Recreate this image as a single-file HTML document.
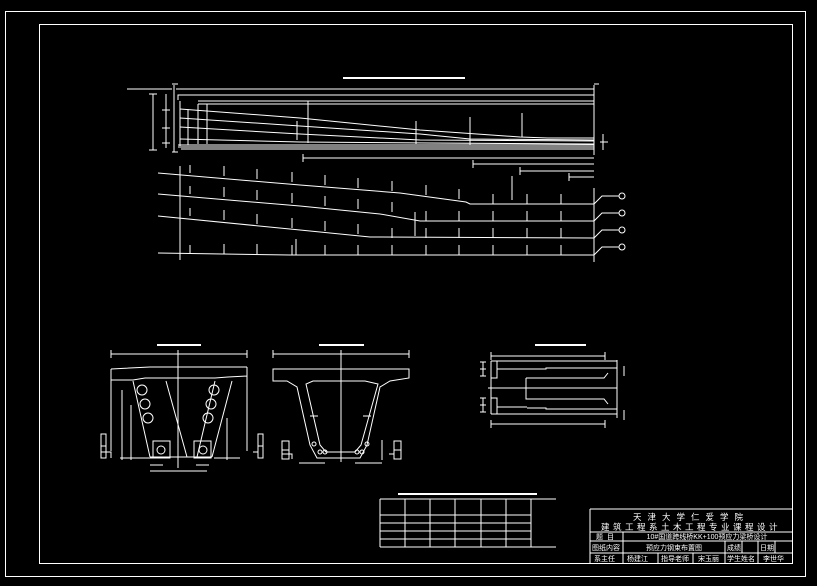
<!DOCTYPE html>
<html><head><meta charset="utf-8"><style>
html,body{margin:0;padding:0;background:#000;}
svg{display:block}
text{font-family:"Liberation Sans","Noto Sans CJK SC",sans-serif;fill:#fff;}
</style></head><body>
<svg width="817" height="586" viewBox="0 0 817 586" xmlns="http://www.w3.org/2000/svg" stroke="#fff" fill="none" stroke-width="1">
<!-- frames -->
<rect x="5.5" y="11.5" width="800" height="565"/>
<rect x="39.5" y="24.5" width="753" height="539"/>

<!-- TOP ELEVATION -->
<line x1="343" y1="78" x2="465" y2="78" stroke-width="2"/>
<line x1="127" y1="89" x2="172" y2="89"/>
<path d="M174 85V152M172 84h6M172 152h6"/>
<line x1="176" y1="89" x2="594" y2="89"/>
<path d="M178 100V95h10M188 95H594"/>
<path d="M198 101H594M198 104H594"/>
<path d="M178 145H594M178 147H594M181 149H594"/>
<path d="M594 85V155M594 84h5"/>
<path d="M153 94V150M149 94h8M149 150h8M166 94V148M162 110h8M162 128h8M162 143h8"/>
<path d="M180 101V146M188 109V145M198 104V144M207 104V144M308 101V143"/>
<!-- tendons top -->
<polyline points="180,109 300,118 420,130 520,137 548,138 594,138"/>
<polyline points="180,118 300,126 420,134 470,139 594,140"/>
<polyline points="180,127 300,134 420,140 594,141"/>
<polyline points="180,139 300,142 430,143 594,144"/>
<path d="M297 140V121M416 144V121M470 145V117M522 137V113"/>
<path d="M603 134V150M600 142h8"/>
<!-- dims under top -->
<path d="M303 158H594M303 154v8M473 164H594M473 160v8M520 171H594M520 167v8M569 177H594M569 173v8"/>

<!-- TENDON PROFILES -->
<path d="M180 166V260"/>
<polyline points="158,173 300,185 400,193 466,202 470,204 594,204"/>
<polyline points="158,194 300,206 380,214 420,221 594,221"/>
<polyline points="158,216 300,230 370,237 594,238"/>
<polyline points="158,253 290,255 594,255"/>
<path d="M594 188V262"/>
<g>
<path d="M190 173v-8M224 176v-10M257 179v-10M292 182v-10M325 185v-10M358 188v-10M392 191v-10M426 195v-10M459 199v-10M493 204v-10M527 204v-10M561 204v-10M512 200v-24"/>
<path d="M190 194v-8M224 197v-10M257 200v-10M292 203v-10M325 206v-10M358 209v-10M392 212v-10M426 221v-10M459 221v-10M493 221v-10M527 221v-10M561 221v-10"/>
<path d="M190 216v-8M224 220v-10M257 224v-10M292 228v-10M325 231v-10M358 234v-10M392 238v-10M426 238v-10M459 238v-10M493 238v-10M527 238v-10M561 238v-10M415 236v-24"/>
<path d="M190 253v-8M224 254v-10M257 254v-10M292 255v-10M325 255v-10M358 255v-10M392 255v-10M426 255v-10M459 255v-10M493 255v-10M527 255v-10M561 255v-10M296 255v-16"/>
</g>
<path d="M594 204L602 196H619M594 221L602 213H619M594 238L602 230H619M594 255L602 247H619"/>
<circle cx="622" cy="196" r="3"/><circle cx="622" cy="213" r="3"/><circle cx="622" cy="230" r="3"/><circle cx="622" cy="247" r="3"/>

<!-- CROSS SECTION LEFT -->
<line x1="157" y1="345" x2="201" y2="345" stroke-width="2"/>
<path d="M111 354H247M111 350v8M247 350v8M178 350v8"/>
<path d="M111 369L150 367H247M111 369V451M247 367V451M111 380H133L145 378H215L228 377L247 376"/>
<path d="M133 381L150 457M166 381L187 457M215 381L197 457M232 381L212 457"/>
<path d="M150 457H212M153 441H170V458H153ZM194 441H211V458H194ZM170 441V458M194 441V458"/>
<circle cx="161" cy="450" r="4"/><circle cx="203" cy="450" r="4"/>
<circle cx="142" cy="390" r="5"/><circle cx="145" cy="404" r="5"/><circle cx="148" cy="418" r="5"/>
<circle cx="214" cy="390" r="5"/><circle cx="211" cy="404" r="5"/><circle cx="208" cy="418" r="5"/>
<path d="M178 354V468M122 390V460M131 405V460M227 418V460M120 458H154M214 458H240"/>
<path d="M150 465H163M196 465H209M150 471H207"/>
<path d="M101 434h5v24h-5zM101 446h5M101 452h10v6M258 434h5v24h-5zM258 446h5M253 452h5"/>

<!-- CROSS SECTION RIGHT -->
<line x1="319" y1="345" x2="364" y2="345" stroke-width="2"/>
<path d="M273 354H409M273 350v8M409 350v8M341 350v8"/>
<path d="M273 369H409V378L390 381L380 387L367 445L360 458H317L310 445L297 387L287 381H273Z"/>
<path d="M306 384L320 445L326 452H355L361 445L378 384L365 381H313Z"/>
<path d="M341 354V462M310 416H318M363 416H371M382 440V460M299 463H325M355 463H382"/>
<circle cx="314" cy="444" r="2"/><circle cx="320" cy="452" r="2"/><circle cx="325" cy="452" r="2"/>
<circle cx="367" cy="444" r="2"/><circle cx="362" cy="452" r="2"/><circle cx="357" cy="452" r="2"/>
<path d="M282 441h7v18h-7zM282 450h7M282 454h10v5M394 441h7v18h-7zM394 450h7M389 454h5v5"/>

<!-- PLAN VIEW -->
<line x1="535" y1="345" x2="586" y2="345" stroke-width="2"/>
<path d="M491 356H605M491 352v8M605 352v8M491 424H605M491 420v8M605 420v8"/>
<path d="M491 361H617M491 414H617M488 388H617M617 360V418"/>
<path d="M491 361V414M491 378H497V361M491 398H497V414"/>
<path d="M497 369H530M527 369H546V368H617M526 378H604L608 373M526 378V399H604L608 404M527 408H546V409H617M497 407H527"/>
<path d="M483 362v14M483 398v14M480 362h6M480 369h6M480 376h6M480 398h6M480 405h6M480 412h6M624 366v10M624 410v10"/>

<!-- TABLE -->
<line x1="398" y1="494" x2="537" y2="494" stroke-width="2"/>
<path d="M380 499H556M380 515H531M380 523H531M380 531H531M380 539H531M380 547H556"/>
<path d="M380 499V547M405 499V547M430 499V547M455 499V547M481 499V547M506 499V547M531 499V547"/>

<!-- TITLE BLOCK -->
<path d="M590 509H792M590 532H792M590 541H792M590 553H792"/>
<path d="M590 509V563M623 532V563M658 553V563M693 553V563M725 541V563M742 541V553M758 541V563M775 541V553"/>
<g stroke="none" font-size="8.5">
<text x="691" y="520" text-anchor="middle" letter-spacing="6">天津大学仁爱学院</text>
<text x="691" y="530" text-anchor="middle" letter-spacing="3.5">建筑工程系土木工程专业课程设计</text>
<text x="596" y="539" font-size="7" letter-spacing="4">题目</text>
<text x="707" y="539" font-size="7" text-anchor="middle">10#国道跨线桥KK+100预应力梁桥设计</text>
<text x="592" y="550" font-size="7">图纸内容</text>
<text x="674" y="550" font-size="7" text-anchor="middle">预应力钢束布置图</text>
<text x="727" y="550" font-size="7">成绩</text>
<text x="760" y="550" font-size="7">日期</text>
<text x="594" y="561" font-size="7">系主任</text>
<text x="627" y="561" font-size="7">杨建江</text>
<text x="661" y="561" font-size="7">指导老师</text>
<text x="698" y="561" font-size="7">宋玉丽</text>
<text x="727" y="561" font-size="7">学生姓名</text>
<text x="763" y="561" font-size="7">李世华</text>
</g>
</svg>
</body></html>
